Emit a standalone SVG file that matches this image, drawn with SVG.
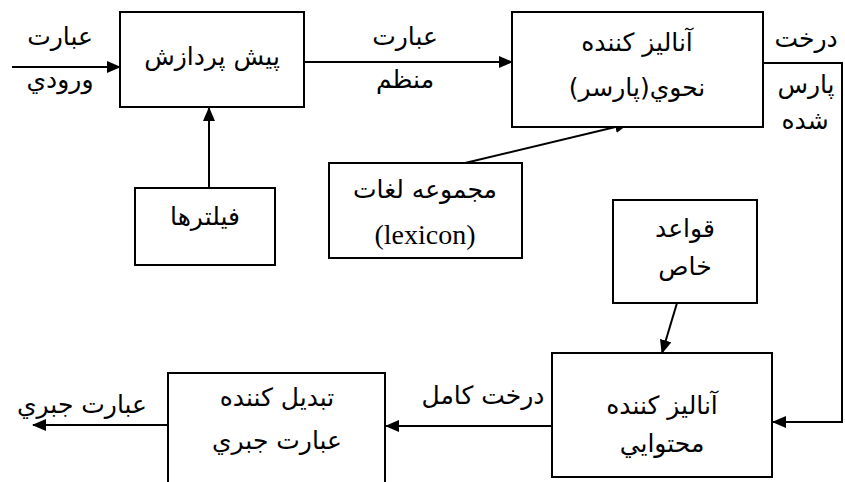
<svg xmlns="http://www.w3.org/2000/svg" width="845" height="482" viewBox="0 0 845 482">
<style>
.box{fill:#fff;stroke:#000;stroke-width:2}
.ln{fill:none;stroke:#000;stroke-width:2}
.t{font-family:"DejaVu Sans",sans-serif;font-size:25px;fill:#000;text-anchor:middle;direction:rtl}
.tr{font-family:"Liberation Serif",serif;font-size:28px;fill:#000;text-anchor:middle}
</style>
<defs>
<marker id="ah" markerUnits="userSpaceOnUse" markerWidth="14" markerHeight="12" refX="13" refY="6" orient="auto" viewBox="0 0 14 12">
<path d="M0,0 L14,6 L0,12 z" fill="#000"/>
</marker>
</defs>
<g id="connectors">
<line class="ln" x1="12" y1="67" x2="120" y2="67" marker-end="url(#ah)"/>
<line class="ln" x1="304" y1="62" x2="512" y2="62" marker-end="url(#ah)"/>
<line class="ln" x1="209" y1="188" x2="209" y2="108" marker-end="url(#ah)"/>
<line class="ln" x1="465" y1="163" x2="628" y2="124" marker-end="url(#ah)"/>
<polyline class="ln" points="757,63 842,63 842,422 773,422" marker-end="url(#ah)"/>
<line class="ln" x1="677" y1="303" x2="662" y2="353" marker-end="url(#ah)"/>
<line class="ln" x1="552" y1="426" x2="386" y2="426" marker-end="url(#ah)"/>
<line class="ln" x1="168" y1="425" x2="33" y2="425" marker-end="url(#ah)"/>
<text class="t" x="60" y="45">عبارت</text>
<text class="t" x="60" y="88">ورودي</text>
<text class="t" x="405" y="45">عبارت</text>
<text class="t" x="405" y="88">منظم</text>
<text class="t" x="806" y="47">درخت</text>
<text class="t" x="806" y="93">پارس</text>
<text class="t" x="805" y="129">شده</text>
<text class="t" x="483" y="404">درخت کامل</text>
<text class="t" x="82" y="413">عبارت جبري</text>
</g>
<g id="n-preprocess">
<rect class="box" x="120" y="12" width="184" height="95"/>
<text class="t" x="212" y="65">پیش پردازش</text>
</g>
<g id="n-parser">
<rect class="box" x="512" y="12" width="251" height="115"/>
<text class="t" x="637" y="51">آنالیز کننده</text>
<text class="t" x="637" y="96">نحوي(پارسر)</text>
</g>
<g id="n-filters">
<rect class="box" x="135" y="188" width="140" height="77"/>
<text class="t" x="205" y="225">فیلترها</text>
</g>
<g id="n-lexicon">
<rect class="box" x="329" y="163" width="193" height="95"/>
<text class="t" x="425" y="198">مجموعه لغات</text>
<text class="tr" x="425" y="244">(lexicon)</text>
</g>
<g id="n-rules">
<rect class="box" x="613" y="200" width="144" height="103"/>
<text class="t" x="685" y="237">قواعد</text>
<text class="t" x="685" y="275">خاص</text>
</g>
<g id="n-semantic">
<rect class="box" x="552" y="353" width="220" height="124"/>
<text class="t" x="662" y="414">آنالیز کننده</text>
<text class="t" x="662" y="452">محتوايي</text>
</g>
<g id="n-converter">
<rect class="box" x="168" y="373" width="217" height="120"/>
<text class="t" x="277" y="406">تبدیل کننده</text>
<text class="t" x="277" y="449">عبارت جبري</text>
</g>
</svg>
